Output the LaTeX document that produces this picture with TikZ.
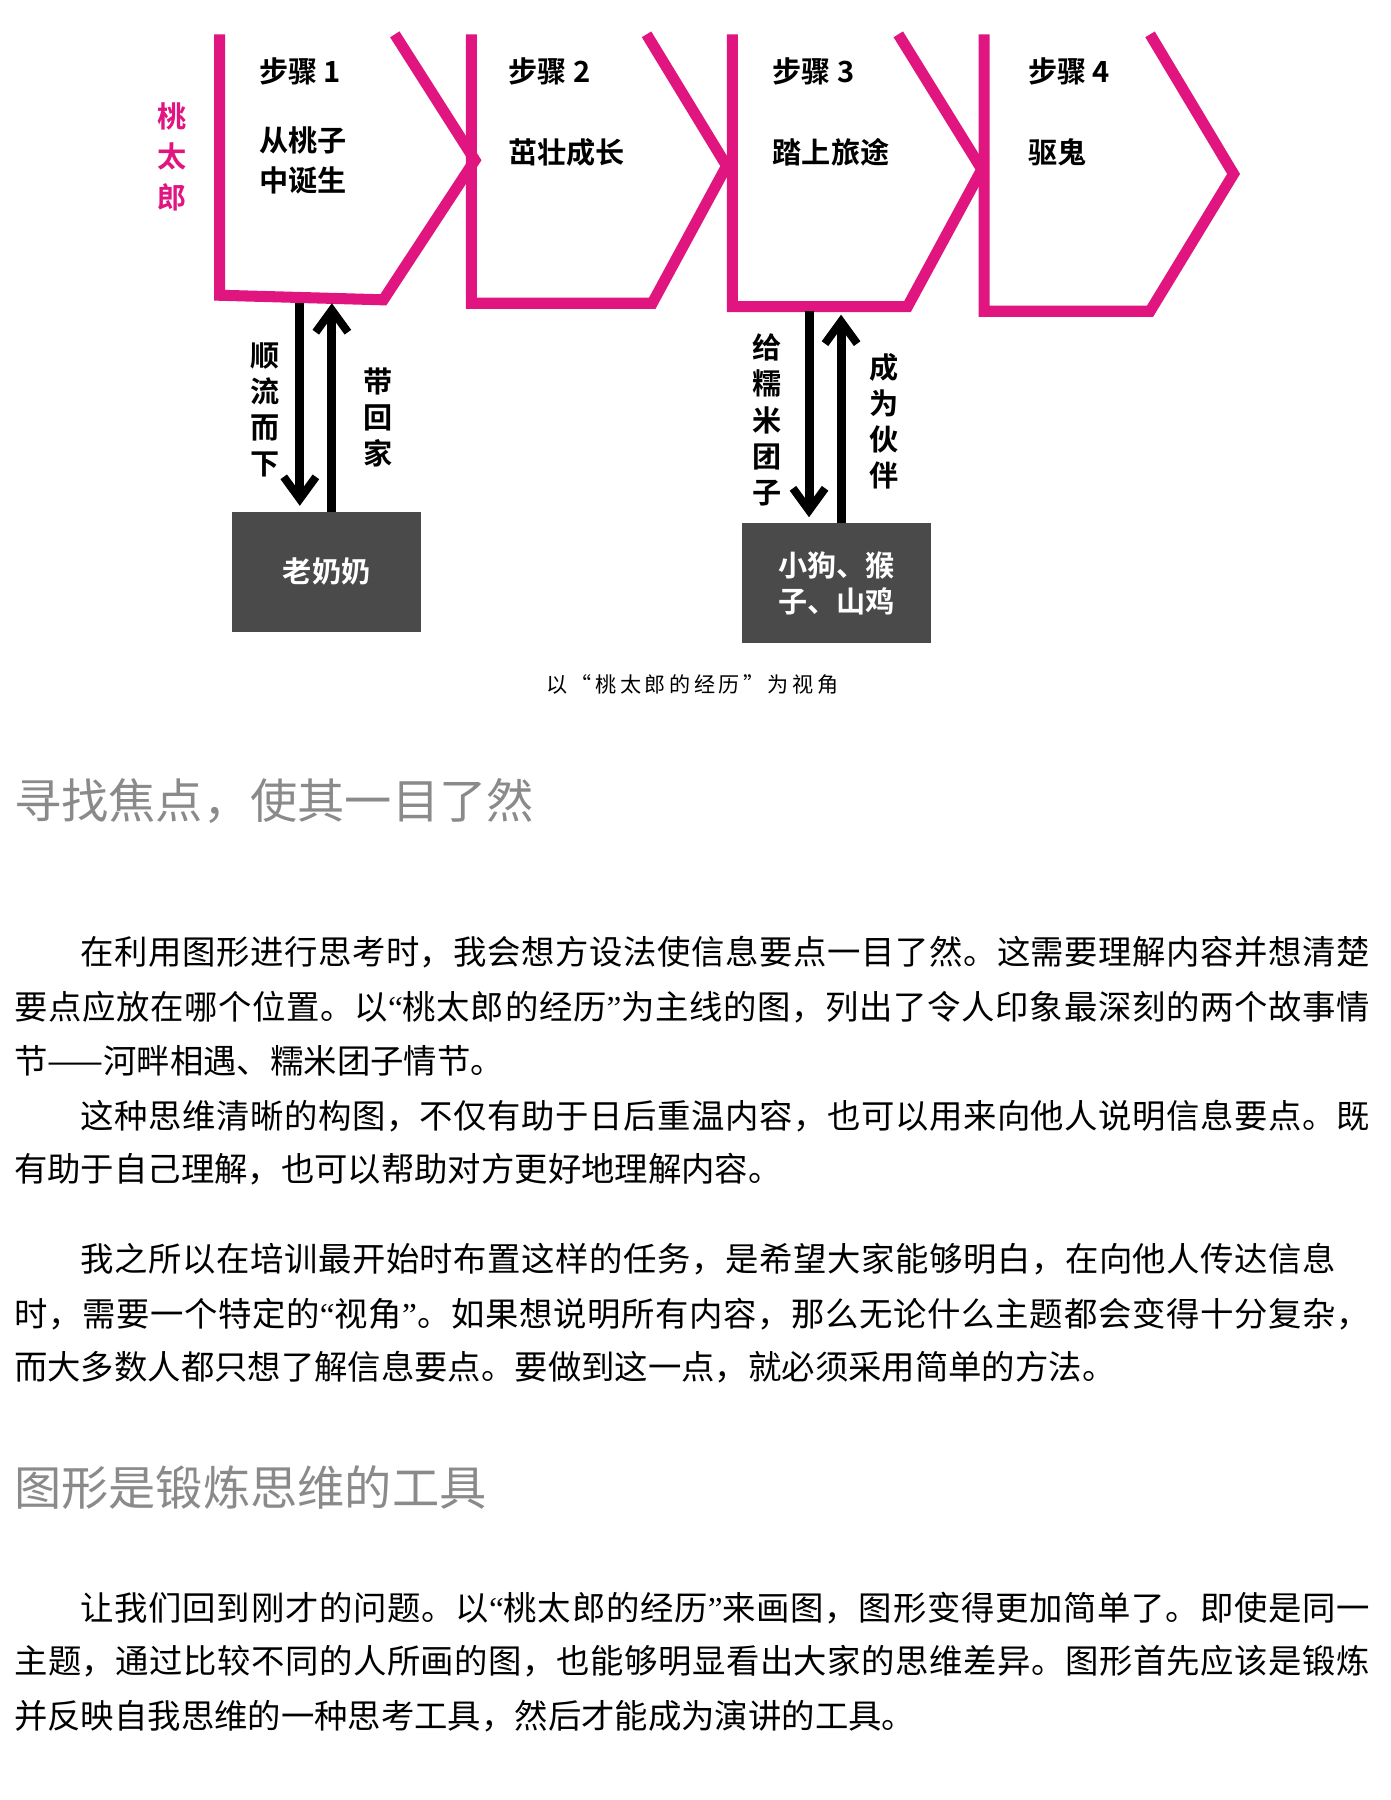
\documentclass[tikz,border=0pt]{standalone}
\usepackage{fontspec}
\setmainfont{Liberation Serif}
\newfontfamily\cjk{Noto Sans CJK SC}
\newfontfamily\cjkb{Noto Sans CJK SC Bold}
\usetikzlibrary{arrows.meta}
\definecolor{mag}{HTML}{E0157F}
\definecolor{boxg}{HTML}{4A4A4A}
\definecolor{headg}{HTML}{8A8A8A}
\newcommand\myglue{\hskip0pt plus 1fil\relax}
\XeTeXinterchartoks 0 0 = {\myglue}
\XeTeXinterchartoks 1 1 = {\myglue}
\XeTeXinterchartoks 1 2 = {\myglue}
\XeTeXinterchartoks 1 3 = {\myglue}
\XeTeXinterchartoks 3 1 = {\myglue}
\XeTeXinterchartoks 3 2 = {\myglue}
\XeTeXinterchartoks 3 3 = {\myglue}
\XeTeXinterchartoks 1 0 = {\myglue}
\XeTeXinterchartoks 0 1 = {\myglue}
\XeTeXinterchartoks 3 0 = {\myglue}
\XeTeXinterchartoks 0 2 = {\myglue}
\newcommand\jl[2]{\hbox to #1{\XeTeXinterchartokenstate=1 #2}}
\newcommand\ql{{\rmfamily “}}
\newcommand\qr{{\rmfamily ”}}
\begin{document}
\begin{tikzpicture}[x=0.02cm,y=-0.02cm,
  stp/.style={draw=mag,line width=5.5,line join=miter},
  lab/.style={font=\cjkb\fontsize{14.5}{17}\selectfont,inner sep=0},
  vlab/.style={font=\cjkb\fontsize{14.5}{18}\selectfont,align=center,inner sep=0},
  arr/.style={line width=4.5,-{Straight Barb[length=11pt,width=16pt,line width=4pt]}},
  gbox/.style={fill=boxg,draw=none},
  body/.style={anchor=west,inner sep=0,font=\cjk\fontsize{16.6}{20}\selectfont},
  head/.style={anchor=west,inner sep=0,text=headg,font=\cjk\fontsize{23.5}{28}\selectfont}]
\useasboundingbox (0,0) rectangle (1215,1573);
% steps
\draw[stp] (192,30) -- (192,258) -- (335,262) -- (415,140) -- (345,30);
\draw[stp] (412,30) -- (412,265) -- (570,265) -- (635,145) -- (565,30);
\draw[stp] (640,30) -- (640,268) -- (793,268) -- (858,148) -- (785,30);
\draw[stp] (860,30) -- (860,272) -- (1005,272) -- (1078,152) -- (1005,30);
\node[vlab,text=mag] (tao) at (150,137) {桃\\[2pt]太\\[2pt]郎};
\node[lab,anchor=west] (s1) at (226,62) {步骤 1};
\node[lab,anchor=west] (s2) at (444,62) {步骤 2};
\node[lab,anchor=west] (s3) at (675,62) {步骤 3};
\node[lab,anchor=west] (s4) at (898,62) {步骤 4};
\node[vlab,anchor=north west,align=left] (t1) at (226,110) {从桃子\\[2pt]中诞生};
\node[lab,anchor=west] (t2) at (444,133) {茁壮成长};
\node[lab,anchor=west] (t3) at (675,133) {踏上旅途};
\node[lab,anchor=west] (t4) at (898,133) {驱鬼};
% boxes
\node[gbox,minimum width=165*0.02cm,minimum height=105*0.02cm] (b1) at (285.5,499.5) {};
\node[lab,text=white] at (b1) {老奶奶};
\node[gbox,minimum width=166*0.02cm,minimum height=105*0.02cm] (b2) at (731,509.5) {};
\node[vlab,text=white] at (b2) {小狗、猴\\子、山鸡};
% arrows
\coordinate (a1t) at (262,265); \coordinate (a1b) at (262,442);
\coordinate (a2t) at (290,265); \coordinate (a2b) at (290,447);
\draw[arr] (a1t) -- (a1b);
\draw[arr] (a2b) -- (a2t);
\coordinate (a3t) at (707,272); \coordinate (a3b) at (707,452);
\coordinate (a4t) at (735,275); \coordinate (a4b) at (735,457);
\draw[arr] (a3t) -- (a3b);
\draw[arr] (a4b) -- (a4t);
\node[vlab] at (232,358) {顺\\流\\而\\下};
\node[vlab] at (330,365) {带\\回\\家};
\node[vlab] at (670,367) {给\\糯\\米\\团\\子};
\node[vlab] at (773,368) {成\\为\\伙\\伴};
\node[inner sep=0,font=\cjk\fontsize{10.5}{12}\selectfont] (cap) at (605,598) {以\,“\,桃\,太\,郎\,的\,经\,历\,”\,为\,视\,角};
% text
\node[head] at (12,700) {寻找焦点，使其一目了然};
\node[body] at (70,832) {\jl{22.54cm}{在利用图形进行思考时，我会想方设法使信息要点一目了然。这需要理解内容并想清楚}};
\node[body] at (12,880) {\jl{23.7cm}{要点应放在哪个位置。以\ql 桃太郎的经历\qr 为主线的图，列出了令人印象最深刻的两个故事情}};
\node[body] at (12,927) {节——河畔相遇、糯米团子情节。};
\node[body] at (70,975) {\jl{22.54cm}{这种思维清晰的构图，不仅有助于日后重温内容，也可以用来向他人说明信息要点。既}};
\node[body] at (12,1022) {有助于自己理解，也可以帮助对方更好地理解内容。};
\node[body] at (70,1100) {\jl{21.95cm}{我之所以在培训最开始时布置这样的任务，是希望大家能够明白，在向他人传达信息}};
\node[body] at (12,1148) {\jl{23.7cm}{时，需要一个特定的\ql 视角\qr 。如果想说明所有内容，那么无论什么主题都会变得十分复杂，}};
\node[body] at (12,1195) {而大多数人都只想了解信息要点。要做到这一点，就必须采用简单的方法。};
\node[head] at (12,1300) {图形是锻炼思维的工具};
\node[body] at (70,1405) {\jl{22.54cm}{让我们回到刚才的问题。以\ql 桃太郎的经历\qr 来画图，图形变得更加简单了。即使是同一}};
\node[body] at (12,1452) {\jl{23.7cm}{主题，通过比较不同的人所画的图，也能够明显看出大家的思维差异。图形首先应该是锻炼}};
\node[body] at (12,1500) {并反映自我思维的一种思考工具，然后才能成为演讲的工具。};
\end{tikzpicture}
\end{document}
